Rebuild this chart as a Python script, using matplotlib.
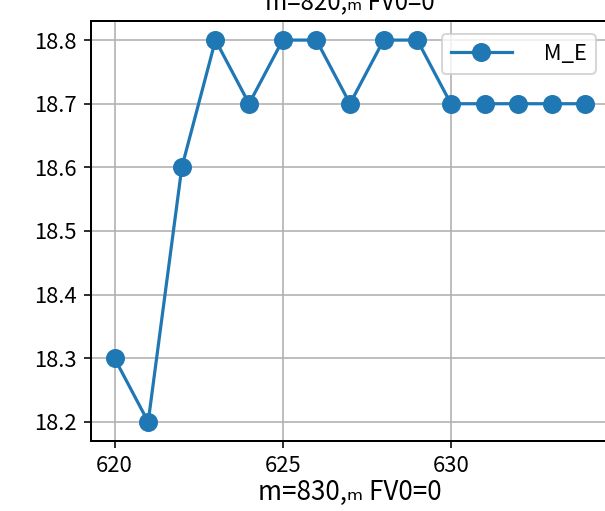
import matplotlib
matplotlib.use("Agg")
import matplotlib.pyplot as plt

plt.rcParams['font.family'] = ['Noto Sans CJK JP', 'DejaVu Sans']

# data
steps = [620, 621, 622, 623, 624, 625, 626, 627, 628, 629, 630, 631, 632, 633, 634]
m_e = [18.3, 18.2, 18.6, 18.8, 18.7, 18.8, 18.8, 18.7, 18.8, 18.8,
       18.7, 18.7, 18.7, 18.7, 18.7]
title_txt = "m=820,\u2098 FV0=0"
xlabel_txt = "m=830,\u2098 FV0=0"

fig = plt.figure(figsize=(605 / 144, 511 / 144), dpi=144)
ax = fig.add_axes([91 / 605, 70 / 511, 518 / 605, 420 / 511])

ax.plot(steps, m_e, '-o', color='#1f77b4', linewidth=1.6, markersize=8.5,
        label='  M_E')

ax.set_xticks([620, 625, 630])
ax.set_yticks([18.2, 18.3, 18.4, 18.5, 18.6, 18.7, 18.8])
ax.yaxis.set_major_formatter(matplotlib.ticker.FormatStrFormatter('%.1f'))
ax.tick_params(labelsize=11)
ax.grid(True)
for s in ax.spines.values():
    s.set_linewidth(1.0)

ax.set_title(title_txt, fontsize=12)
ax.set_xlabel(xlabel_txt, fontsize=13, labelpad=1)
ax.legend(loc='upper right', fontsize=11, handlelength=2.8,
          handletextpad=1.0, borderaxespad=0.6)

fig.savefig('out.png', dpi=144)
